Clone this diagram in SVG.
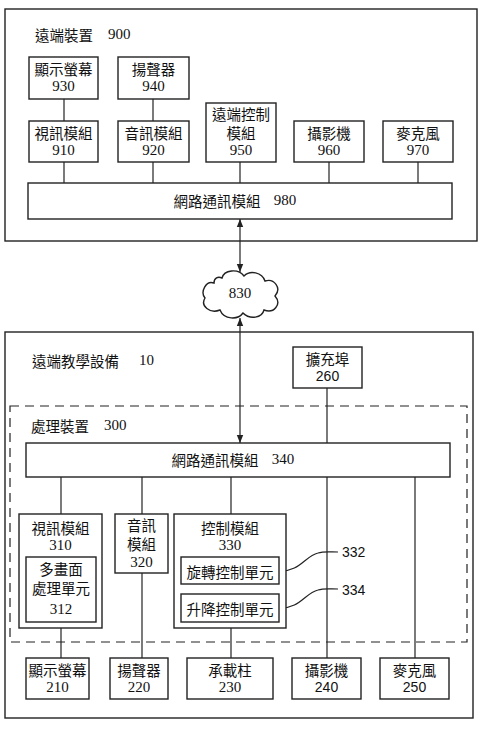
<svg xmlns="http://www.w3.org/2000/svg" width="480" height="732" viewBox="0 0 480 732">
<defs>
<style>
.b{fill:#fff;stroke:#222;stroke-width:1.4}
.o{fill:none;stroke:#222;stroke-width:1.4}
.d{fill:none;stroke:#222;stroke-width:1.2;stroke-dasharray:9 6}
.l{fill:none;stroke:#222;stroke-width:1.2}
.t{font-family:"Noto Sans CJK TC","Noto Sans CJK SC",sans-serif;font-size:14.5px;fill:#111;text-anchor:middle;dominant-baseline:central}
.n{font-family:"Liberation Serif",serif;font-size:15px;fill:#111;text-anchor:middle;dominant-baseline:central}
.s{font-family:"Liberation Sans",Arial,sans-serif;font-size:14px;fill:#111;text-anchor:middle;dominant-baseline:central}
.lt{text-anchor:start}
</style>
<marker id="ah" viewBox="0 0 10 10" refX="10" refY="5" markerWidth="8" markerHeight="10" markerUnits="userSpaceOnUse" orient="auto-start-reverse">
<path d="M0,1 L10,5 L0,9 z" fill="#222"/>
</marker>
</defs>
<rect width="480" height="732" fill="#fff"/>

<g id="remote-device-900">
<rect class="o" x="5" y="9" width="472" height="232"/>
<text class="t lt" x="35" y="34">遠端裝置</text>
<text class="n lt" x="108" y="34">900</text>
</g>

<g id="teaching-10">
<rect class="o" x="5" y="332" width="468" height="386"/>
<text class="t lt" x="32" y="360">遠端教學設備</text>
<text class="n lt" x="139" y="360">10</text>
</g>

<g id="processing-300">
<rect class="d" x="10" y="406" width="457" height="236"/>
<text class="t lt" x="31" y="425">處理裝置</text>
<text class="n lt" x="104" y="425">300</text>
</g>

<g id="connectors">
<line class="l" x1="64" y1="99" x2="64" y2="121"/>
<line class="l" x1="153" y1="99" x2="153" y2="121"/>
<line class="l" x1="64" y1="162" x2="64" y2="183"/>
<line class="l" x1="153" y1="162" x2="153" y2="183"/>
<line class="l" x1="240" y1="162" x2="240" y2="183"/>
<line class="l" x1="329" y1="162" x2="329" y2="183"/>
<line class="l" x1="418" y1="162" x2="418" y2="183"/>
<line class="l" x1="240" y1="219" x2="240" y2="272" marker-start="url(#ah)" marker-end="url(#ah)"/>
<line class="l" x1="240" y1="318" x2="240" y2="443" marker-start="url(#ah)" marker-end="url(#ah)"/>
<line class="l" x1="327" y1="388" x2="327" y2="443"/>
<line class="l" x1="61" y1="477" x2="61" y2="514"/>
<line class="l" x1="142" y1="477" x2="142" y2="514"/>
<line class="l" x1="231" y1="477" x2="231" y2="514"/>
<line class="l" x1="327" y1="477" x2="327" y2="658"/>
<line class="l" x1="415" y1="477" x2="415" y2="658"/>
<line class="l" x1="61" y1="628" x2="61" y2="658"/>
<line class="l" x1="142" y1="573" x2="142" y2="658"/>
<line class="l" x1="231" y1="628" x2="231" y2="658"/>
<path class="l" d="M279,571 C300,572 305,556 318,553 C324,551 330,552 338,552"/>
<path class="l" d="M279,608 C300,609 305,593 318,590 C324,588 330,589 338,589"/>
</g>

<g id="n930"><rect class="b" x="29" y="57" width="69" height="42"/><text class="t" x="63.5" y="68">顯示螢幕</text><text class="n" x="63.5" y="86">930</text></g>
<g id="n940"><rect class="b" x="118" y="57" width="71" height="42"/><text class="t" x="153.5" y="68">揚聲器</text><text class="n" x="153.5" y="86">940</text></g>
<g id="n910"><rect class="b" x="29" y="121" width="69" height="41"/><text class="t" x="63.5" y="132">視訊模組</text><text class="n" x="63.5" y="150">910</text></g>
<g id="n920"><rect class="b" x="118" y="121" width="71" height="41"/><text class="t" x="153.5" y="132">音訊模組</text><text class="n" x="153.5" y="150">920</text></g>
<g id="n950"><rect class="b" x="206" y="103" width="70" height="59"/><text class="t" x="241" y="113">遠端控制</text><text class="t" x="241" y="132">模組</text><text class="n" x="241" y="150">950</text></g>
<g id="n960"><rect class="b" x="294" y="121" width="70" height="41"/><text class="t" x="329" y="132">攝影機</text><text class="n" x="329" y="150">960</text></g>
<g id="n970"><rect class="b" x="383" y="121" width="70" height="41"/><text class="t" x="418" y="132">麥克風</text><text class="n" x="418" y="150">970</text></g>
<g id="n980"><rect class="b" x="28" y="183" width="424" height="36"/><text class="t" x="217" y="200">網路通訊模組</text><text class="n" x="285" y="200">980</text></g>

<g id="n830">
<path class="b" d="M214,283 C206,280 200,292 205,298 C200,306 210,314 220,310 C224,320 238,320 243,313 C250,320 262,318 264,310 C274,314 282,304 275,296 C282,288 274,278 265,281 C262,272 250,270 244,276 C238,268 224,270 222,278 C218,276 214,278 214,283 Z"/>
<text class="n" x="240" y="293">830</text>
</g>

<g id="n260"><rect class="b" x="293" y="347" width="69" height="41"/><text class="t" x="327.5" y="358">擴充埠</text><text class="s" x="327.5" y="376">260</text></g>
<g id="n340"><rect class="b" x="26" y="443" width="424" height="34"/><text class="t" x="215" y="459">網路通訊模組</text><text class="n" x="283" y="459">340</text></g>

<g id="n310"><rect class="b" x="19" y="514" width="83" height="114"/><text class="t" x="60.5" y="527">視訊模組</text><text class="n" x="60.5" y="545">310</text></g>
<g id="n312"><rect class="b" x="26" y="557" width="70" height="65"/><text class="t" x="61" y="568">多畫面</text><text class="t" x="61" y="587">處理單元</text><text class="n" x="61" y="609">312</text></g>
<g id="n320"><rect class="b" x="115" y="514" width="53" height="59"/><text class="t" x="141.5" y="524">音訊</text><text class="t" x="141.5" y="543">模組</text><text class="n" x="141.5" y="562">320</text></g>
<g id="n330"><rect class="b" x="174" y="514" width="112" height="114"/><text class="t" x="230" y="527">控制模組</text><text class="n" x="230" y="545">330</text></g>
<g id="n332"><rect class="b" x="181" y="557" width="98" height="27"/><text class="t" x="230" y="571">旋轉控制單元</text></g>
<g id="n334"><rect class="b" x="181" y="594" width="98" height="28"/><text class="t" x="230" y="608">升降控制單元</text></g>
<text class="s lt" x="342" y="552">332</text>
<text class="s lt" x="342" y="590">334</text>

<g id="n210"><rect class="b" x="26" y="658" width="63" height="41"/><text class="t" x="57.5" y="669">顯示螢幕</text><text class="n" x="57.5" y="687">210</text></g>
<g id="n220"><rect class="b" x="110" y="658" width="58" height="41"/><text class="t" x="139" y="669">揚聲器</text><text class="n" x="139" y="687">220</text></g>
<g id="n230"><rect class="b" x="187" y="658" width="86" height="41"/><text class="t" x="230" y="669">承載柱</text><text class="n" x="230" y="687">230</text></g>
<g id="n240"><rect class="b" x="292" y="658" width="69" height="41"/><text class="t" x="326.5" y="669">攝影機</text><text class="s" x="326.5" y="687">240</text></g>
<g id="n250"><rect class="b" x="380" y="658" width="69" height="41"/><text class="t" x="414.5" y="669">麥克風</text><text class="s" x="414.5" y="687">250</text></g>
</svg>
